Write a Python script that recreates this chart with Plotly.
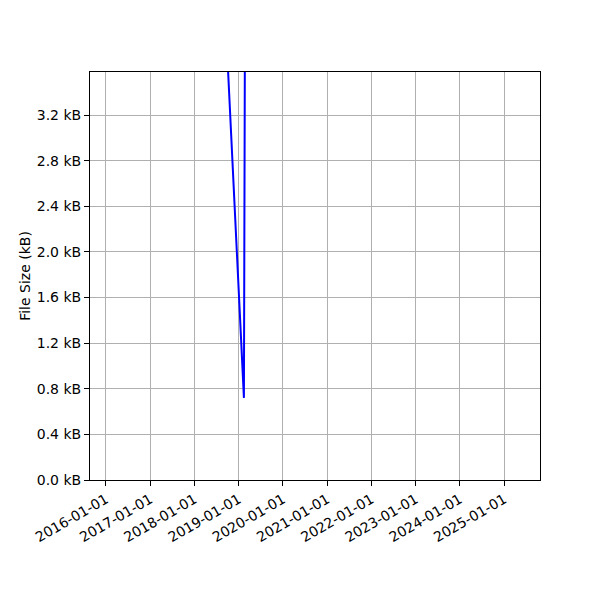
import plotly.graph_objects as go

###############################################################################
# Data

dates = ["2018-06-17", "2019-02-13", "2019-03-09"]
sizes_kb = [6.0, 0.72, 10.0]

y_ticks = [0.0, 0.4, 0.8, 1.2, 1.6, 2.0, 2.4, 2.8, 3.2]

###############################################################################
# Figure

fig = go.Figure(
    data=[
        go.Scatter(
            x=dates,
            y=sizes_kb,
            mode="lines",
            showlegend=False,
            line=dict(color="blue", width=2),
        )
    ]
)

axis_style = dict(
    showline=True,
    linecolor="black",
    linewidth=1,
    mirror=True,
    ticks="outside",
    ticklen=5,
    tickcolor="black",
    showgrid=True,
    gridcolor="#b0b0b0",
    gridwidth=1,
    zeroline=False,
    tickfont=dict(family="DejaVu Sans", size=14, color="black"),
)

fig.update_xaxes(
    type="date",
    range=["2015-08-22", "2025-10-24"],
    tick0="2016-01-01",
    dtick="M12",
    tickformat="%Y-%m-%d",
    tickangle=-30,
    **axis_style,
)

fig.update_yaxes(
    range=[0, 3.577],
    tickvals=y_ticks,
    ticktext=[f"{v:.1f} kB" for v in y_ticks],
    title=dict(text="File Size (kB)", font=dict(family="DejaVu Sans", size=14, color="black"), standoff=2),
    **axis_style,
)

# the html page adds an 8px body margin, so shift the plot area back
fig.update_layout(
    width=600,
    height=600,
    autosize=False,
    margin=dict(l=82, r=68, t=64, b=128),
    plot_bgcolor="white",
    paper_bgcolor="white",
    font=dict(family="DejaVu Sans", size=14, color="black"),
)

fig.write_html("out.html")
